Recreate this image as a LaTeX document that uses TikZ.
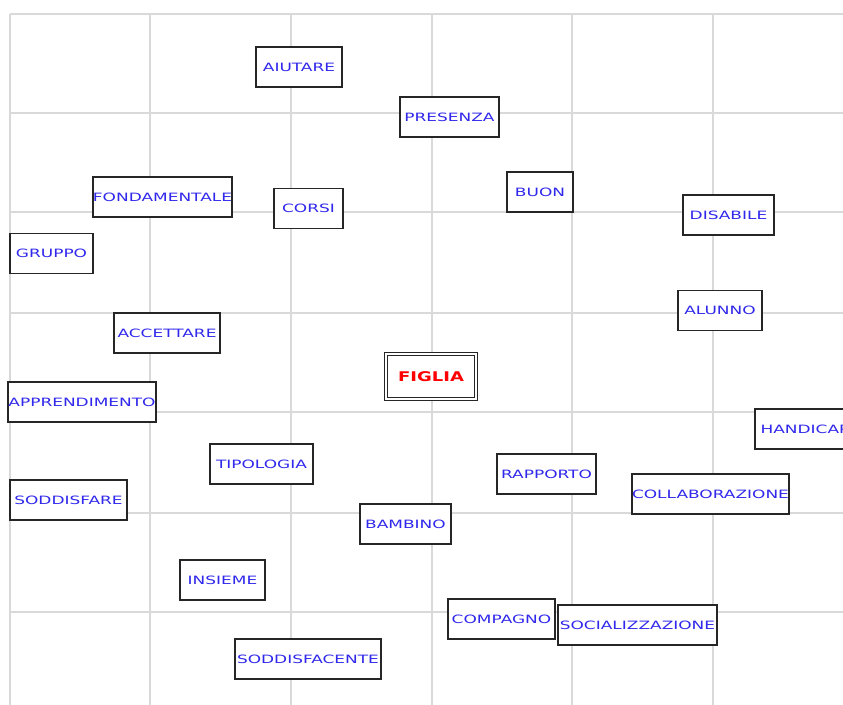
\documentclass[tikz,border=0pt]{standalone}
\usepackage{fontspec}
\usepackage{tikz}
\newfontfamily\wordfont[FakeStretch=1.48]{DejaVu Sans}
\newfontfamily\corefont[FakeStretch=1.35]{DejaVu Sans}
\definecolor{gridgray}{RGB}{217,217,217}
\definecolor{wordblue}{RGB}{48,40,235}
\tikzset{word/.style = {draw=black!85, fill=white, line width=0.9pt, inner sep=0pt,
                        minimum height=40*0.75pt, text=wordblue,
                        font=\wordfont\fontsize{8.6pt}{9pt}\selectfont},
         boxw/.style = {minimum width=#1*0.75pt},
         core/.style = {word, text=red, font=\corefont\bfseries\fontsize{10pt}{11pt}\selectfont,
                        double=white, double distance=1.6pt, line width=0.7pt}}

\begin{document}
\begin{tikzpicture}[x=0.75pt, y=-0.75pt]
    \useasboundingbox (0, 0) rectangle (843, 705);
    \clip (0, 0) rectangle (843, 705);
    \fill [white] (0, 0) rectangle (843, 705);

    % grid
    \foreach \gx in {10, 150, 291, 432, 572, 713}
      \draw [gridgray, line width=1pt] (\gx, 14) -- (\gx, 705);
    \foreach \gy in {14, 113, 212, 313, 412, 513, 612}
      \draw [gridgray, line width=1pt] (10, \gy) -- (843, \gy);

    % words
    \node [word, boxw=86]  (aiutare)   at (299, 67)     {AIUTARE};
    \node [word, boxw=99]  (presenza)  at (449.5, 117)  {PRESENZA};
    \node [word, boxw=139] (fondam)    at (162.5, 197)  {FONDAMENTALE};
    \node [word, boxw=69]  (corsi)     at (308.5, 208.5){CORSI};
    \node [word, boxw=66]  (buon)      at (540, 192)    {BUON};
    \node [word, boxw=91]  (disabile)  at (728.5, 215)  {DISABILE};
    \node [word, boxw=83]  (gruppo)    at (51.5, 253.5) {GRUPPO};
    \node [word, boxw=84]  (alunno)    at (720, 310.5)  {ALUNNO};
    \node [word, boxw=106] (accettare) at (167, 333)    {ACCETTARE};
    \node [core, boxw=90, minimum height=45*0.75pt] (figlia) at (431, 376.5) {FIGLIA};
    \node [word, boxw=148] (apprend)   at (82, 402)     {APPRENDIMENTO};
    \node [word, boxw=100] (handicap)  at (805, 429)    {HANDICAP};
    \node [word, boxw=103] (tipologia) at (261.5, 464)  {TIPOLOGIA};
    \node [word, boxw=99]  (rapporto)  at (546.5, 474)  {RAPPORTO};
    \node [word, boxw=155] (collab)    at (710.5, 494)  {COLLABORAZIONE};
    \node [word, boxw=117] (soddisf)   at (68.5, 500)   {SODDISFARE};
    \node [word, boxw=91]  (bambino)   at (405.5, 524)  {BAMBINO};
    \node [word, boxw=85]  (insieme)   at (222.5, 580)  {INSIEME};
    \node [word, boxw=107] (compagno)  at (501.5, 619)  {COMPAGNO};
    \node [word, boxw=159] (socializ)  at (637.5, 625)  {SOCIALIZZAZIONE};
    \node [word, boxw=146] (soddisfac) at (308, 659)    {SODDISFACENTE};
\end{tikzpicture}
\end{document}
